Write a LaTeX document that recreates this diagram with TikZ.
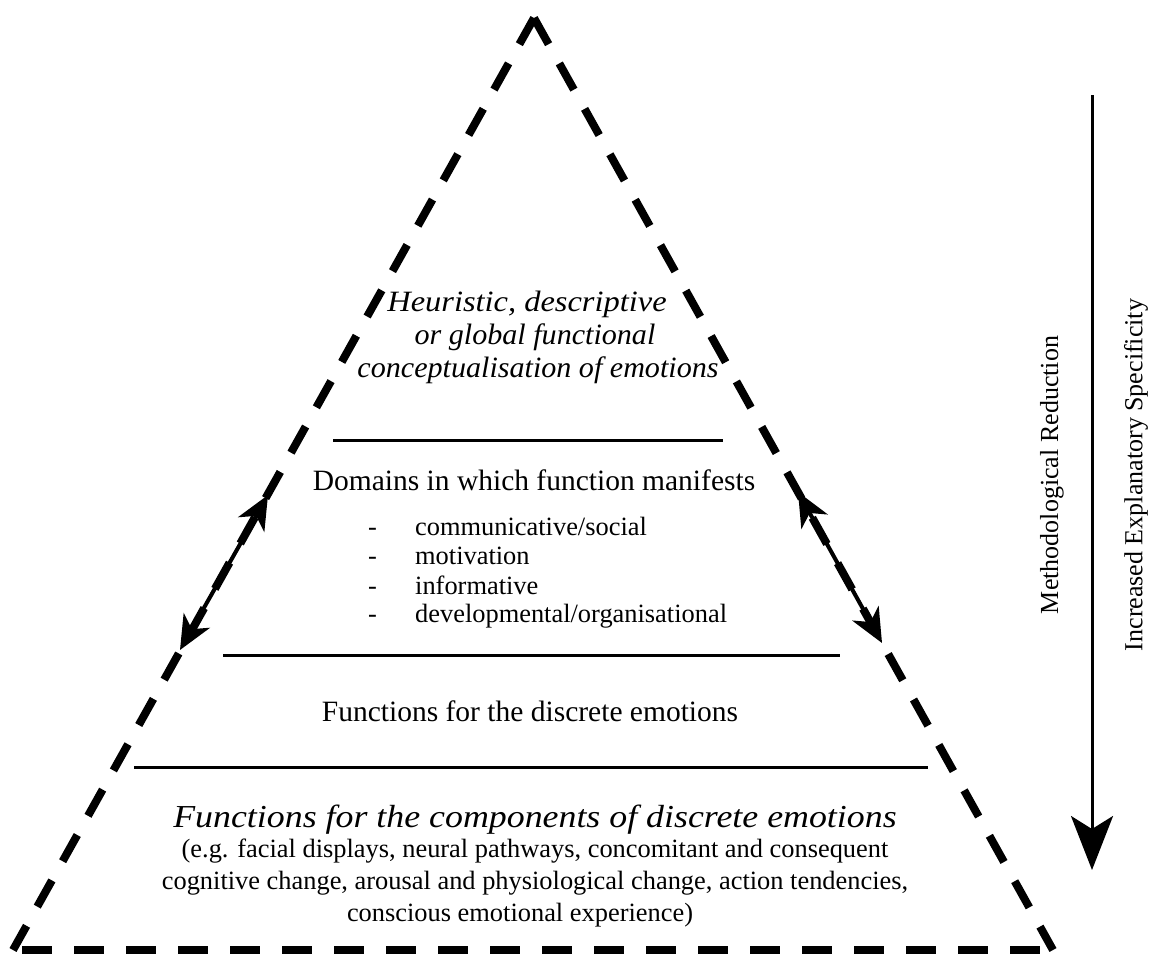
\documentclass[tikz,border=0pt]{standalone}
\usepackage{fontspec}
\setmainfont{Liberation Serif}
\usetikzlibrary{arrows.meta}
\begin{document}
\begin{tikzpicture}[x=1pt,y=-1pt,
  edgeline/.style={line width=8pt, dash pattern=on 30pt off 22pt},
  rule/.style={line width=3pt},
  dblarrow/.style={line width=4pt, {Stealth[length=34pt,width=30pt,inset=10pt]}-{Stealth[length=34pt,width=30pt,inset=10pt]}},
  downarrow/.style={line width=3pt, -{Stealth[length=54pt,width=42pt,inset=13pt]}},
  mainfont/.style={font=\fontsize{29.5}{33}\selectfont, inner sep=0pt, anchor=base},
  itfont/.style={font=\fontsize{29.5}{33}\selectfont\itshape, inner sep=0pt, anchor=base},
  compfont/.style={font=\fontsize{32}{34}\selectfont\itshape, inner sep=0pt, anchor=base},
  smallfont/.style={font=\fontsize{26.4}{30}\selectfont, inner sep=0pt, anchor=base},
  itemfont/.style={font=\fontsize{26.4}{30}\selectfont, inner sep=0pt, anchor=base west},
  sidefont/.style={font=\fontsize{26}{30}\selectfont, inner sep=0pt, rotate=90}
]
\useasboundingbox (0,0) rectangle (1153,956);

% triangle
\coordinate (A) at (534,18);
\coordinate (BL) at (13,950);
\coordinate (BR) at (1053,950);
\coordinate (BLb) at (22,950);
\coordinate (BRb) at (1043,950);
\draw[edgeline] (A) -- (BL);
\draw[edgeline] (A) -- (BR);
\draw[edgeline] (BLb) -- (BRb);

% horizontal rules
\coordinate (r1a) at (333,440); \coordinate (r1b) at (723,440);
\coordinate (r2a) at (223,655); \coordinate (r2b) at (840,655);
\coordinate (r3a) at (134,767); \coordinate (r3b) at (928,767);
\draw[rule] (r1a) -- (r1b);
\draw[rule] (r2a) -- (r2b);
\draw[rule] (r3a) -- (r3b);

% level 1
\node[itfont] (h1) at (527,311) {\scalebox{1.1}[1]{Heuristic, descriptive}};
\node[itfont] (h2) at (535,344) {\scalebox{1.02}[1]{or global functional}};
\node[itfont] (h3) at (538,377) {\scalebox{1.02}[1]{conceptualisation of emotions}};

% level 2
\node[mainfont] (dom) at (534,490) {Domains in which function manifests};
\node[itemfont] (d1) at (368,535) {-};
\node[itemfont] (d2) at (368,564) {-};
\node[itemfont] (d3) at (368,594) {-};
\node[itemfont] (d4) at (368,622) {-};
\node[itemfont] (i1) at (415,535) {communicative/social};
\node[itemfont] (i2) at (415,564) {motivation};
\node[itemfont] (i3) at (415,594) {informative};
\node[itemfont] (i4) at (415,622) {developmental/organisational};

% level 3
\node[mainfont] (disc) at (530,721) {Functions for the discrete emotions};

% level 4
\node[compfont] (comp) at (535,827) {\scalebox{1.12}[1]{Functions for the components of discrete emotions}};
\node[smallfont] (e1) at (535,857) {(e.g. facial displays, neural pathways, concomitant and consequent};
\node[smallfont] (e2) at (535,889) {cognitive change, arousal and physiological change, action tendencies,};
\node[smallfont] (e3) at (520,921) {conscious emotional experience)};

% double arrows along the sides
\coordinate (la) at (180,650); \coordinate (lb) at (268,495);
\coordinate (ra) at (798,492); \coordinate (rb) at (882,643);
\draw[dblarrow] (la) -- (lb);
\draw[dblarrow] (ra) -- (rb);

% right vertical arrow
\coordinate (vt) at (1092,95);
\coordinate (vb) at (1092,870);
\draw[downarrow] (vt) -- (vb);
\node[sidefont] (mr) at (1052,475) {Methodological Reduction};
\node[sidefont] (ies) at (1136,475) {Increased Explanatory Specificity};
\end{tikzpicture}
\end{document}
